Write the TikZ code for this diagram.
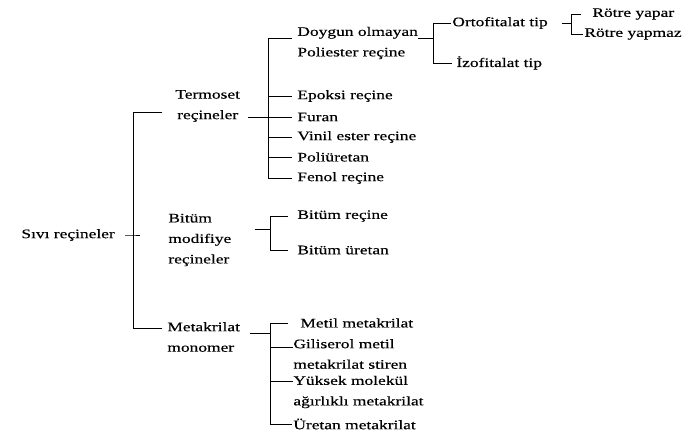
\documentclass[tikz,border=0pt]{standalone}
\usepackage{fontspec}
\setmainfont[FakeStretch=1.34, FakeBold=0.4]{Liberation Serif}

\tikzset{
	lbl/.style={anchor=west, inner sep=0pt, font=\fontsize{13}{20.5}\selectfont},
	mlbl/.style={lbl, align=left},
}

\begin{document}
\begin{tikzpicture}[x=1pt, y=-1pt, line width=0.8pt]
	\useasboundingbox (0,0) rectangle (695,433);

	\node[lbl] (sivi) at (21,235) {Sıvı reçineler};
	\node[mlbl, align=center] (termoset) at (175,106) {Termoset\\reçineler};
	\node[mlbl] (bitum) at (168,240) {Bitüm\\modifiye\\reçineler};
	\node[mlbl] (metak) at (167,337) {Metakrilat\\monomer};

	\node[mlbl] (doygun) at (297,43) {Doygun olmayan\\Poliester reçine};
	\node[lbl] (epoksi) at (297,96) {Epoksi reçine};
	\node[lbl] (furan) at (297,117) {Furan};
	\node[lbl] (vinil) at (297,137) {Vinil ester reçine};
	\node[lbl] (poliur) at (297,157) {Poliüretan};
	\node[lbl] (fenol) at (297,178) {Fenol reçine};

	\node[lbl] (orto) at (452,23) {Ortofitalat tip};
	\node[lbl] (izo) at (456,63) {İzofitalat tip};
	\node[lbl] (yapar) at (592,14) {Rötre yapar};
	\node[lbl] (yapmaz) at (584,34) {Rötre yapmaz};

	\node[lbl] (bres) at (297,216) {Bitüm reçine};
	\node[lbl] (buret) at (297,250) {Bitüm üretan};

	\node[lbl] (metil) at (300,323) {Metil metakrilat};
	\node[mlbl] (gilis) at (293,354) {Giliserol metil\\metakrilat stiren};
	\node[mlbl] (yuksek) at (293,392) {Yüksek molekül\\ağırlıklı metakrilat};
	\node[lbl] (uretan) at (293,424) {Üretan metakrilat};

	% main bracket
	\coordinate (m1) at (133,112);
	\coordinate (m2) at (133,328);
	\draw ([xshift=10pt]sivi.east) -- (sivi.east -| m1) -- ++(7,0);
	\draw ([xshift=-13pt]termoset.west |- m1) -- (m1) -- (m2) -- ([xshift=-5pt]metak.west |- m2);

	% termoset
	\coordinate (t1) at (268,38);
	\draw ([xshift=-5pt]doygun.west |- t1) -- (t1) -- (t1 |- fenol.west) -- ([xshift=-5pt]fenol.west);
	\foreach \n in {epoksi,vinil,poliur}
		\draw (t1 |- \n.west) -- ([xshift=-5pt]\n.west);
	\draw ([xshift=8pt]termoset.east |- furan.west) -- ([xshift=-5pt]furan.west);

	% doygun olmayan
	\coordinate (d1) at (433,38);
	\draw (doygun.east |- d1) -- (d1);
	\draw ([xshift=-1pt]orto.west) -- (orto.west -| d1) -- (izo.west -| d1) -- ([xshift=-4pt]izo.west);

	% ortofitalat
	\coordinate (o1) at (571,23);
	\draw ([xshift=14pt]orto.east) -- (o1);
	\draw ([xshift=-11pt]yapar.west) -| (yapmaz.west -| o1) -- ([xshift=-1pt]yapmaz.west);

	% bitum
	\coordinate (b1) at (270,229);
	\draw ([xshift=23pt]bitum.east |- b1) -- (b1);
	\draw ([xshift=-9pt]bres.west) -| (b1 |- buret.west) -- ([xshift=-9pt]buret.west);

	% metakrilat
	\coordinate (k1) at (270,333);
	\draw ([xshift=10pt]metak.east |- k1) -- (k1);
	\draw ([xshift=-12pt]metil.west) -| (k1 |- uretan.west) -- ([xshift=-1pt]uretan.west);
	\draw ([yshift=-8.5pt]gilis.north west) coordinate (g) -- (g -| k1);
	\draw ([yshift=-5.5pt]yuksek.north west) coordinate (y) -- (y -| k1);
\end{tikzpicture}
\end{document}
